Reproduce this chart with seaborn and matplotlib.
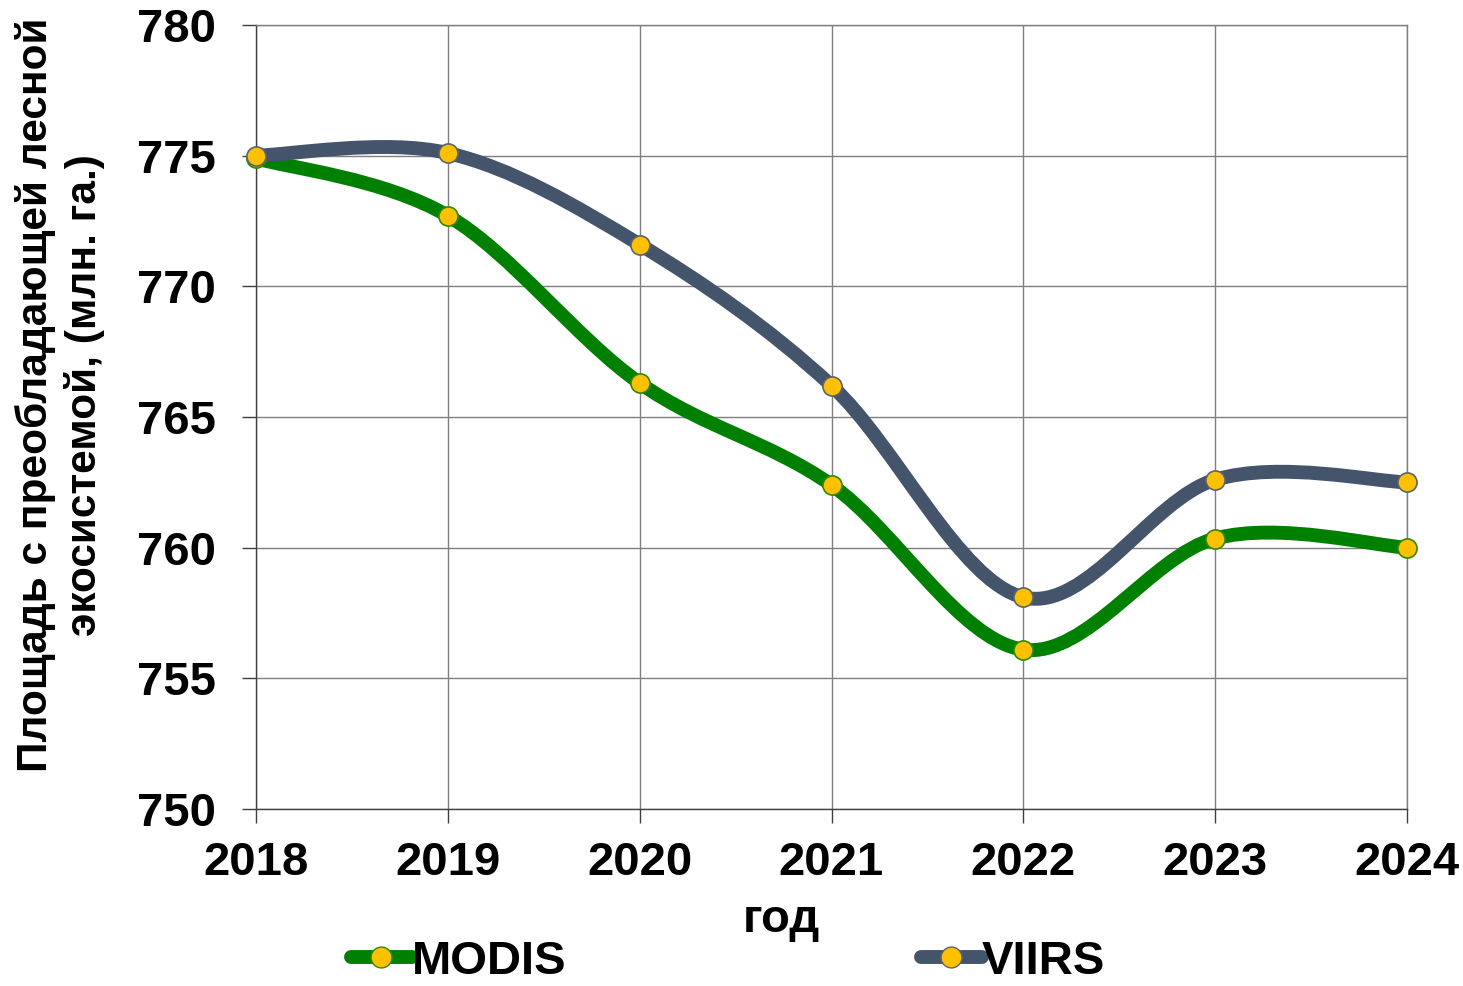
import numpy as np
import pandas as pd
import matplotlib
matplotlib.use("Agg")
import matplotlib.pyplot as plt
import seaborn as sns
from matplotlib.path import Path
from matplotlib.patches import PathPatch
from matplotlib.lines import Line2D

years = [2018, 2019, 2020, 2021, 2022, 2023, 2024]
modis = [774.9, 772.7, 766.3, 762.4, 756.1, 760.35, 760.0]
viirs = [775.0, 775.1, 771.6, 766.2, 758.1, 762.6, 762.5]
series_names = ["MODIS", "VIIRS"]
y_ticks = [750, 755, 760, 765, 770, 775, 780]
x_label = "год"
y_label = "Площадь с преобладающей лесной\nэкосистемой, (млн. га.)"

line_colors = {"MODIS": "#008000", "VIIRS": "#44546A"}
edge_colors = {"MODIS": "#2E8B00", "VIIRS": "#5A6470"}
marker_face = "#FFC000"

sns.set_theme(style="white")
plt.rcParams["font.family"] = ["Liberation Sans", "DejaVu Sans"]
plt.rcParams["font.weight"] = "bold"
plt.rcParams["text.color"] = "black"
plt.rcParams["axes.labelcolor"] = "black"
plt.rcParams["xtick.color"] = "black"
plt.rcParams["ytick.color"] = "black"

fig = plt.figure(figsize=(14.63, 9.86), dpi=100)
ax = fig.add_axes([256/1463, 1-809/986, (1407-256)/1463, (809-25)/986])

df = pd.DataFrame({
    "year": years * 2,
    "value": modis + viirs,
    "series": ["MODIS"] * len(years) + ["VIIRS"] * len(years),
})


def smooth_path(xs, ys):
    # Excel-style smoothed line: cubic Bezier segments through data points
    xs = np.asarray(xs, float)
    ys = np.asarray(ys, float)
    n = len(xs)
    verts = [(xs[0], ys[0])]
    codes = [Path.MOVETO]
    for i in range(n - 1):
        p0 = np.array([xs[max(i - 1, 0)], ys[max(i - 1, 0)]])
        p1 = np.array([xs[i], ys[i]])
        p2 = np.array([xs[i + 1], ys[i + 1]])
        p3 = np.array([xs[min(i + 2, n - 1)], ys[min(i + 2, n - 1)]])
        c1 = p1 + (p2 - p0) / 6.0
        c2 = p2 - (p3 - p1) / 6.0
        verts += [tuple(c1), tuple(c2), tuple(p2)]
        codes += [Path.CURVE4] * 3
    return Path(verts, codes)


for name, vals in zip(series_names, [modis, viirs]):
    patch = PathPatch(smooth_path(years, vals), facecolor="none",
                      edgecolor=line_colors[name], lw=10, capstyle="round",
                      joinstyle="round", zorder=3)
    ax.add_patch(patch)

for name in series_names:
    sub = df[df["series"] == name]
    sns.scatterplot(data=sub, x="year", y="value", ax=ax, s=190,
                    color=marker_face, edgecolor=edge_colors[name],
                    linewidth=1.2, zorder=4, legend=False, clip_on=False)

ax.set_xlim(2018, 2024)
ax.set_ylim(750, 780)
ax.set_xticks(years)
ax.set_xticklabels([str(y) for y in years])
ax.set_yticks(y_ticks)
ax.grid(True, color="#7f7f7f", lw=1.0)
for s in ax.spines.values():
    s.set_color("#7f7f7f")
    s.set_linewidth(1.0)
ax.spines["left"].set_color("#404040")
ax.spines["bottom"].set_color("#404040")
ax.tick_params(axis="both", which="major", length=10, width=1.0,
               color="#404040", labelcolor="black", labelsize=34,
               direction="out", left=True, bottom=True)
ax.tick_params(axis="y", pad=19)
ax.tick_params(axis="x", pad=13)
for lab in ax.get_xticklabels() + ax.get_yticklabels():
    lab.set_fontweight("bold")

ax.set_xlabel(x_label, fontsize=34, fontweight="bold", color="black")
ax.xaxis.set_label_coords((781-256)/1151, (809-920)/784)
ax.xaxis.label.set_va("center")
ax.set_ylabel(y_label, fontsize=30.5, fontweight="bold", linespacing=1.22,
              color="black")
ax.yaxis.set_label_coords((60-256)/1151, (809-395)/784)
ax.yaxis.label.set_va("center")

handles = [Line2D([0], [0], color=line_colors[n], lw=10, solid_capstyle="round",
                  marker="o", markersize=15, markerfacecolor=marker_face,
                  markeredgecolor=edge_colors[n]) for n in series_names]
fig.legend(handles, series_names, loc="center", ncol=2,
           bbox_to_anchor=(728/1463, 1-962/986), frameon=False,
           prop={"size": 34, "weight": "bold"}, handlelength=1.3,
           handletextpad=0.0, columnspacing=7.5, borderpad=0,
           labelcolor="black")

fig.savefig("out.png", dpi=100)
